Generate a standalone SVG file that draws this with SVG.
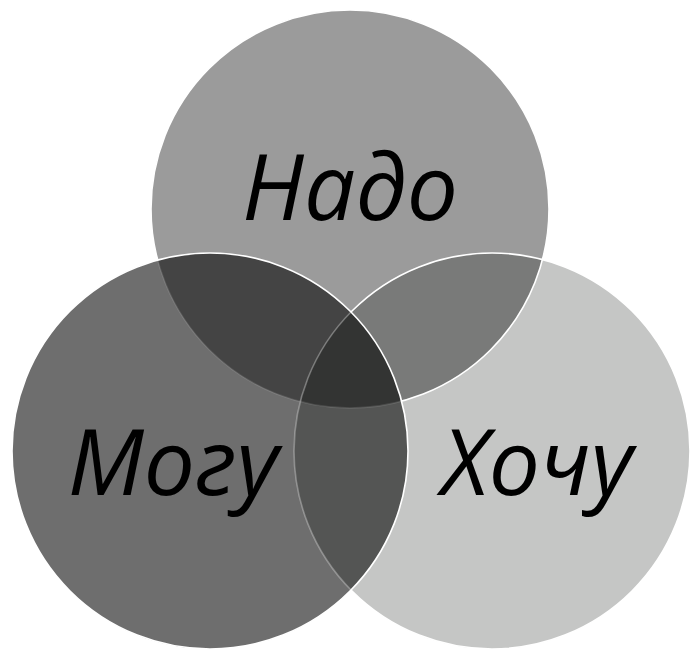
<svg xmlns="http://www.w3.org/2000/svg" width="692" height="650" viewBox="0 0 692 650">
<style>
.lbl{font-family:"Open Sans","Noto Sans",sans-serif;font-style:italic;font-size:91px;fill:#000;text-anchor:middle}
.w{fill:none;stroke:#fff;stroke-width:1.6}
</style>
<defs>
<circle id="cT" cx="350" cy="209" r="199"/>
<circle id="cL" cx="210" cy="451" r="198"/>
<circle id="cR" cx="492" cy="451" r="198"/>
<clipPath id="clipT"><use href="#cT"/></clipPath>
<clipPath id="clipL"><use href="#cL"/></clipPath>
<clipPath id="clipR"><use href="#cR"/></clipPath>
<mask id="outL"><rect width="692" height="650" fill="#fff"/><use href="#cL" fill="#000"/></mask>
</defs>
<rect width="692" height="650" fill="#fff"/>
<g id="nado">
<use href="#cT" fill="#9b9b9b"/>
</g>
<g id="hochu">
<use href="#cR" fill="#c5c6c5"/>
</g>
<g id="mogu">
<use href="#cL" fill="#6e6e6e"/>
</g>
<g id="overlaps">
<use href="#cL" fill="#444444" clip-path="url(#clipT)"/>
<use href="#cR" fill="#797a79" clip-path="url(#clipT)"/>
<use href="#cL" fill="#545554" clip-path="url(#clipR)"/>
<g clip-path="url(#clipT)"><use href="#cL" fill="#333433" clip-path="url(#clipR)"/></g>
</g>
<g id="outlines">
<g mask="url(#outL)">
<use href="#cT" class="w"/>
<use href="#cR" class="w"/>
</g>
<g clip-path="url(#clipL)">
<use href="#cR" class="w" stroke-opacity="0.3"/>
<use href="#cT" class="w" stroke-opacity="0.12"/>
</g>
<use href="#cL" class="w"/>
</g>
<g id="labels">
<text class="lbl" x="350" y="220">Надо</text>
<text class="lbl" x="173" y="495">Могу</text>
<text class="lbl" x="537" y="495">Хочу</text>
</g>
</svg>
